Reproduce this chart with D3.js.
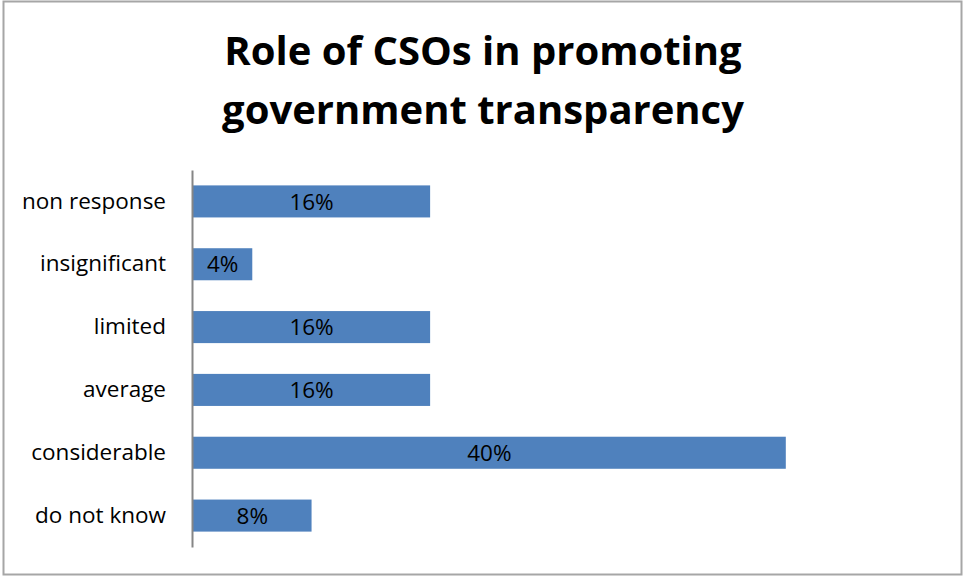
<!DOCTYPE html>
<html>
<head>
<meta charset="utf-8">
<script src="https://cdn.jsdelivr.net/npm/d3@7"></script>
<style>
  html, body { margin: 0; padding: 0; background: #fff; }
  svg { display: block; }
  text { font-family: "Open Sans", "Lato", sans-serif; fill: #000; }
</style>
</head>
<body>
<svg id="chart" width="963" height="577"></svg>
<script>
// Survey answers, top to bottom
const categories = ["non response", "insignificant", "limited", "average", "considerable", "do not know"];
const shares = [0.16, 0.04, 0.16, 0.16, 0.40, 0.08];
const titleLines = ["Role of CSOs in promoting", "government transparency"];

const W = 963, H = 577;
const svg = d3.select("#chart");

// outer frame
svg.append("rect")
  .attr("x", 3.5).attr("y", 1.5)
  .attr("width", W - 5).attr("height", H - 4)
  .attr("fill", "#fff").attr("stroke", "#a6a6a6").attr("stroke-width", 2);

// title
svg.append("g").selectAll("text")
  .data(titleLines)
  .join("text")
  .attr("x", 483)
  .attr("y", (d, i) => 65 + i * 59)
  .attr("text-anchor", "middle")
  .attr("font-weight", "bold")
  .attr("font-size", 40)
  .text(d => d);

const plot = { left: 192, right: 934, top: 170, bottom: 547 };

const x = d3.scaleLinear().domain([0, 0.5]).range([plot.left + 1, plot.right]);
const y = d3.scaleBand().domain(categories).range([plot.top, plot.bottom]).paddingInner(0.49).paddingOuter(0.245);

// bars
svg.append("g").selectAll("rect")
  .data(categories)
  .join("rect")
  .attr("x", x(0))
  .attr("y", d => y(d))
  .attr("width", (d, i) => x(shares[i]) - x(0))
  .attr("height", y.bandwidth())
  .attr("fill", "#4f81bd");

// value labels centred in each bar
svg.append("g").selectAll("text")
  .data(categories)
  .join("text")
  .attr("x", (d, i) => (x(0) + x(shares[i])) / 2)
  .attr("y", d => y(d) + y.bandwidth() / 2)
  .attr("dy", "0.36em")
  .attr("text-anchor", "middle")
  .attr("font-size", 22.5)
  .text((d, i) => d3.format(".0%")(shares[i]));

// category axis
const axis = d3.axisLeft(y).tickSize(0).tickPadding(26);
const ax = svg.append("g").attr("transform", `translate(${plot.left},0)`).call(axis);
ax.select(".domain").attr("stroke", "#868686").attr("stroke-width", 2);
ax.selectAll("text").attr("font-size", 22.5).attr("font-family", "'Open Sans', sans-serif").attr("fill", "#000");
</script>
</body>
</html>
